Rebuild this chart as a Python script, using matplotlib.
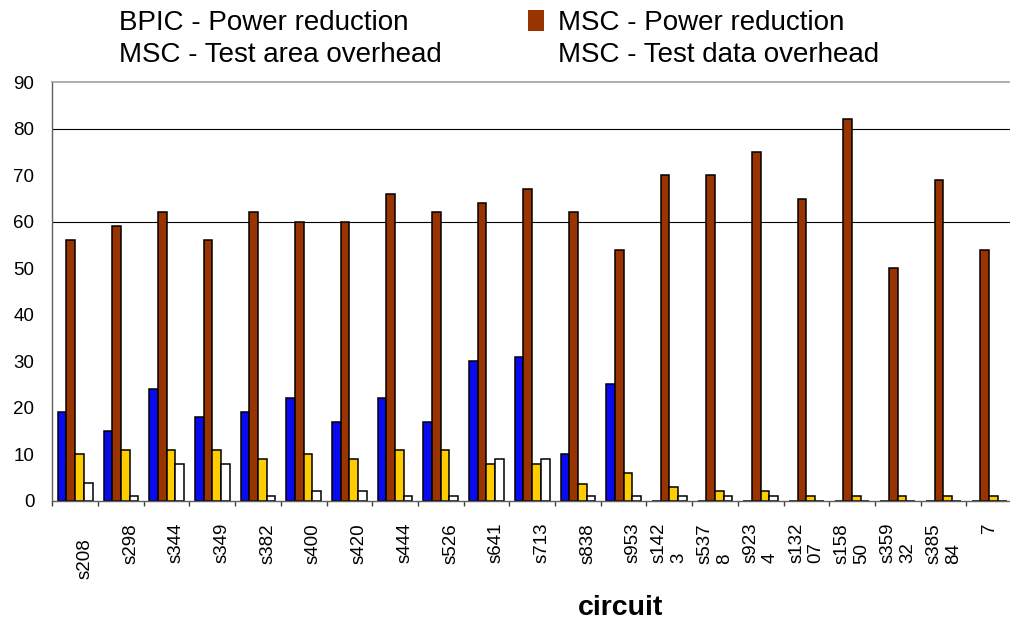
import numpy as np
import matplotlib
matplotlib.use("Agg")
import matplotlib.pyplot as plt
from matplotlib.transforms import ScaledTranslation

plt.rcParams['font.family'] = ['Liberation Sans', 'DejaVu Sans']

# circuits (full names) and the way their labels are wrapped on the axis
circuits = ["s208", "s298", "s344", "s349", "s382", "s400", "s420", "s444",
            "s526", "s641", "s713", "s838", "s953", "s1423", "s5378", "s9234",
            "s13207", "s15850", "s35932", "s38584", "s38417"]
tick_labels = ["\ns208", "\ns298", "\ns344", "\ns349", "\ns382", "\ns400",
               "\ns420", "\ns444", "\ns526", "\ns641", "\ns713", "\ns838",
               "\ns953", "s142\n3", "s537\n8", "s923\n4", "s132\n07",
               "s158\n50", "s359\n32", "s385\n84", "7"]

bpic_power = [19, 15, 24, 18, 19, 22, 17, 22, 17, 30, 31, 10, 25,
              0, 0, 0, 0, 0, 0, 0, 0]
msc_power = [56, 59, 62, 56, 62, 60, 60, 66, 62, 64, 67, 62, 54,
             70, 70, 75, 65, 82, 50, 69, 54]
msc_area = [10, 11, 11, 11, 9, 10, 9, 11, 11, 8, 8, 3.7, 6,
            3, 2, 2, 1, 1, 1, 1, 1]
msc_data = [3.9, 1, 8, 8, 1, 2, 2, 1, 1, 9, 9, 1, 1,
            1, 1, 1, 0, 0, 0, 0, 0]

grid_at = [60, 80]

fig = plt.figure(figsize=(10.10, 6.23), dpi=100)
ax = fig.add_axes([0.0518, 0.1963, 0.9502, 0.6716])

x = np.arange(len(circuits)) + 0.5
w = 0.19
series = [(bpic_power, "#0A0AF0", "BPIC - Power reduction"),
          (msc_power, "#993300", "MSC - Power reduction"),
          (msc_area, "#FFCC00", "MSC - Test area overhead"),
          (msc_data, "#FFFFFF", "MSC - Test data overhead")]
bars = []
for i, (vals, col, lab) in enumerate(series):
    b = ax.bar(x + (i - 1.5) * w, vals, w, color=col, edgecolor="black",
               linewidth=1.1, label=lab, zorder=2)
    bars.append(b)

for g in grid_at:
    ax.axhline(g, color="black", linewidth=0.8, zorder=0.5)

ax.set_xlim(0, len(circuits))
ax.set_ylim(0, 90)
ax.set_yticks(range(0, 91, 10))
ax.tick_params(axis="y", length=0, pad=13, labelsize=13.5)

ax.set_xticks(x)
ax.set_xticklabels(tick_labels, rotation=90, va="top", ha="center",
                   multialignment="left", fontsize=13.5)
ax.set_xticks(np.arange(len(circuits) + 1), minor=True)
ax.tick_params(axis="x", which="major", length=0, pad=16)
ax.tick_params(axis="x", which="minor", length=3.5, width=1, color="#404040")

for s in ["left", "bottom"]:
    ax.spines[s].set_color("#606060")
    ax.spines[s].set_linewidth(1.0)
ax.spines["top"].set_color("#A0A0A0")
ax.spines["top"].set_linewidth(1.2)
ax.spines["right"].set_visible(False)

ax.set_xlabel("circuit", fontsize=20.5, fontweight="bold")
ax.xaxis.set_label_coords(0.5926, -0.225)

lab0 = ax.get_xticklabels()[0]
lab0.set_transform(lab0.get_transform() + ScaledTranslation(0, -0.15, fig.dpi_scale_trans))

handles = [bars[0], bars[2], bars[1], bars[3]]
leg = fig.legend(handles, [h.get_label() for h in handles], ncol=2,
                 loc="upper left", bbox_to_anchor=(0.0875, 0.984), frameon=False,
                 fontsize=20, handlelength=0.6, handleheight=0.8,
                 handletextpad=0.5, columnspacing=3.1, labelspacing=0.21,
                 borderpad=0, borderaxespad=0)
for i, h in enumerate(leg.legend_handles):
    if i == 2:
        h.set_edgecolor("none")
    else:
        h.set_visible(False)

fig.savefig("out.png", dpi=100)
